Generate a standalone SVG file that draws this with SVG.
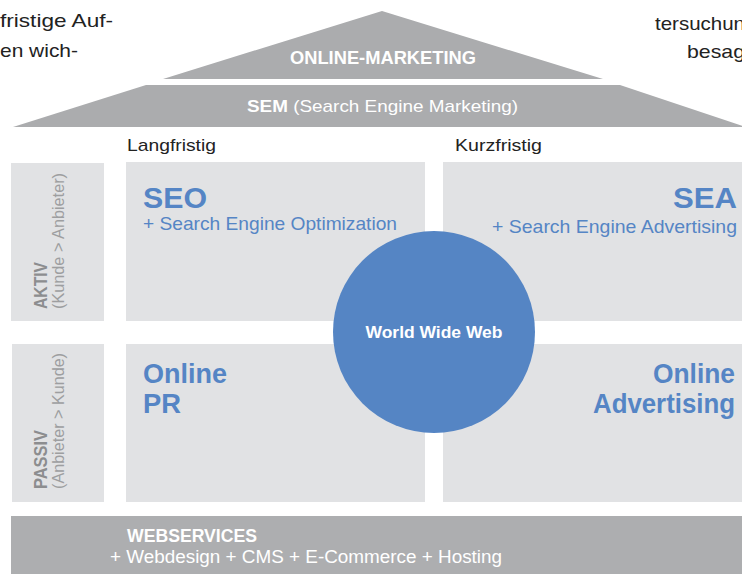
<svg xmlns="http://www.w3.org/2000/svg" width="742" height="574" viewBox="0 0 742 574">
  <style>
    .roof { fill: #abacae; }
    .box { fill: #e1e2e4; }
    .body { font-family: "Liberation Sans", Arial, sans-serif; fill: #222; }
    .head { font-family: "Liberation Sans", Arial, sans-serif; font-weight: bold; fill: #5585c5; }
    .sub { font-family: "Liberation Sans", Arial, sans-serif; fill: #5585c5; }
    .white { font-family: "Liberation Sans", Arial, sans-serif; fill: #ffffff; }
    .side { font-family: "Liberation Sans", Arial, sans-serif; font-weight: bold; fill: #8c8d8f; }
    .sidesub { font-family: "Liberation Sans", Arial, sans-serif; fill: #9d9ea0; }
  </style>
  <rect width="742" height="574" fill="#ffffff"/>

  <!-- surrounding body copy -->
  <g id="page-text" class="body" font-size="19">
    <text x="0" y="27" textLength="113" lengthAdjust="spacingAndGlyphs">fristige Auf-</text>
    <text x="0" y="57" textLength="78" lengthAdjust="spacingAndGlyphs">en wich-</text>
    <text x="655" y="30" textLength="90" lengthAdjust="spacingAndGlyphs">tersuchun</text>
    <text x="687" y="58" textLength="58" lengthAdjust="spacingAndGlyphs">besag</text>
  </g>

  <!-- roof -->
  <g id="online-marketing">
    <polygon class="roof" points="382,11 603,79 163,79"/>
    <text class="white" x="383" y="64" font-size="18" font-weight="bold" text-anchor="middle" textLength="186" lengthAdjust="spacingAndGlyphs">ONLINE-MARKETING</text>
  </g>
  <g id="sem">
    <polygon class="roof" points="146,85 620,85 746,127 13,127"/>
    <text class="white" x="247" y="112" font-size="17" textLength="271" lengthAdjust="spacingAndGlyphs"><tspan font-weight="bold">SEM</tspan> (Search Engine Marketing)</text>
  </g>

  <!-- column labels -->
  <g id="col-labels" class="body" font-size="17">
    <text x="127" y="151" textLength="89" lengthAdjust="spacingAndGlyphs">Langfristig</text>
    <text x="455" y="151" textLength="87" lengthAdjust="spacingAndGlyphs">Kurzfristig</text>
  </g>

  <!-- row labels -->
  <g id="aktiv">
    <rect class="box" x="11" y="163" width="93" height="158"/>
    <text class="side" transform="translate(47,309) rotate(-90)" font-size="19" textLength="47" lengthAdjust="spacingAndGlyphs">AKTIV</text>
    <text class="sidesub" transform="translate(64,309) rotate(-90)" font-size="16" textLength="136" lengthAdjust="spacingAndGlyphs">(Kunde &gt; Anbieter)</text>
  </g>
  <g id="passiv">
    <rect class="box" x="12" y="344" width="92" height="158"/>
    <text class="side" transform="translate(47,489) rotate(-90)" font-size="19" textLength="59" lengthAdjust="spacingAndGlyphs">PASSIV</text>
    <text class="sidesub" transform="translate(64,489) rotate(-90)" font-size="16" textLength="136" lengthAdjust="spacingAndGlyphs">(Anbieter &gt; Kunde)</text>
  </g>

  <!-- quadrants -->
  <g id="seo">
    <rect class="box" x="126" y="162" width="299" height="159"/>
    <text class="head" x="143" y="208" font-size="29" textLength="64" lengthAdjust="spacingAndGlyphs">SEO</text>
    <text class="sub" x="143" y="230" font-size="19" textLength="254" lengthAdjust="spacingAndGlyphs">+ Search Engine Optimization</text>
  </g>
  <g id="sea">
    <rect class="box" x="443" y="162" width="299" height="159"/>
    <text class="head" x="737" y="208" font-size="29" text-anchor="end" textLength="64" lengthAdjust="spacingAndGlyphs">SEA</text>
    <text class="sub" x="737" y="233" font-size="19" text-anchor="end" textLength="245" lengthAdjust="spacingAndGlyphs">+  Search Engine Advertising</text>
  </g>
  <g id="online-pr">
    <rect class="box" x="126" y="344" width="299" height="158"/>
    <text class="head" x="143" y="383" font-size="28" textLength="84" lengthAdjust="spacingAndGlyphs">Online</text>
    <text class="head" x="143" y="413" font-size="28" textLength="38" lengthAdjust="spacingAndGlyphs">PR</text>
  </g>
  <g id="online-advertising">
    <rect class="box" x="443" y="344" width="299" height="158"/>
    <text class="head" x="735" y="383" font-size="28" text-anchor="end" textLength="82" lengthAdjust="spacingAndGlyphs">Online</text>
    <text class="head" x="735" y="413" font-size="28" text-anchor="end" textLength="142" lengthAdjust="spacingAndGlyphs">Advertising</text>
  </g>

  <!-- centre -->
  <g id="www">
    <circle cx="434" cy="332" r="101" fill="#5585c4"/>
    <text class="white" x="434" y="338" font-size="16" font-weight="bold" text-anchor="middle" textLength="137" lengthAdjust="spacingAndGlyphs">World Wide Web</text>
  </g>

  <!-- foundation -->
  <g id="webservices">
    <rect x="11" y="516" width="731" height="58" fill="#adaeb0"/>
    <text class="white" x="127" y="542" font-size="18" font-weight="bold" textLength="130" lengthAdjust="spacingAndGlyphs">WEBSERVICES</text>
    <text class="white" x="110" y="563" font-size="18" textLength="392" lengthAdjust="spacingAndGlyphs">+ Webdesign + CMS + E-Commerce + Hosting</text>
  </g>

  <!-- no connectors in this figure -->
  <g id="connectors"/>
</svg>
